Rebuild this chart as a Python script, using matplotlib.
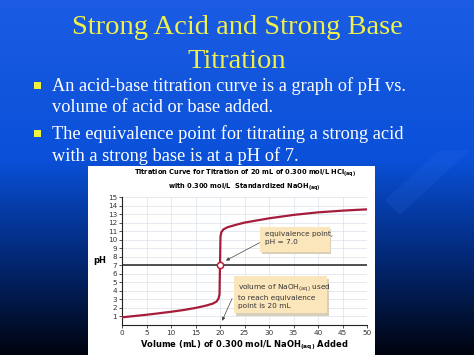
import numpy as np
import matplotlib.pyplot as plt
from matplotlib.patches import Rectangle, Polygon
from matplotlib.colors import LinearSegmentedColormap

plt.rcParams['mathtext.default'] = 'regular'

# titration curve
volume = [0, 2.5, 5, 7.5, 10, 12.5, 15, 17, 18.5, 19.3, 19.7, 19.9, 20, 20.1,
          20.3, 20.7, 21.5, 23, 25, 27.5, 30, 32.5, 35, 37.5, 40, 42.5, 45, 47.5, 50]
ph = [0.9, 1.05, 1.2, 1.37, 1.55, 1.75, 2.0, 2.25, 2.5, 2.75, 3.1, 3.6, 7.0, 10.4,
      10.9, 11.2, 11.45, 11.7, 12.0, 12.25, 12.5, 12.7, 12.9, 13.05, 13.2, 13.3, 13.4, 13.48, 13.55]
equiv_v, equiv_ph = 20, 7.0
xticks = list(range(0, 51, 5))
yticks = list(range(1, 16))

slide_title = ['Strong Acid and Strong Base', 'Titration']
bullets = [['An acid-base titration curve is a graph of pH vs.',
            'volume of acid or base added.'],
           ['The equivalence point for titrating a strong acid',
            'with a strong base is at a pH of 7.']]

W, H = 474, 355
fig = plt.figure(figsize=(W / 100, H / 100), dpi=100)

# slide background
bg = fig.add_axes([0, 0, 1, 1], zorder=-1)
bg.set_axis_off()
cmap = LinearSegmentedColormap.from_list('slide', [
    (0.0, '#1c5ce4'), (0.45, '#0a50d8'), (0.7, '#032c80'), (1.0, '#00040f')])
grad = np.linspace(0, 1, 256).reshape(-1, 1)
bg.imshow(grad, cmap=cmap, aspect='auto', extent=[0, 1, 0, 1], origin='upper')
bg.set_xlim(0, 1)
bg.set_ylim(0, 1)

def px(x, y):
    return x / W, 1 - y / H

bg.add_patch(Polygon([px(440, 150), px(470, 150), px(400, 215), px(385, 200)],
                     closed=True, color='#3f80ff', alpha=0.12, lw=0))

bg.text(*px(237, 27), slide_title[0], ha='center', va='center', fontsize=20.5,
        family='Liberation Serif', color='#f0f04a')
bg.text(*px(237, 62), slide_title[1], ha='center', va='center', fontsize=20.5,
        family='Liberation Serif', color='#f0f04a')

baselines = [[91, 112.5], [139, 161]]
for lines, ys in zip(bullets, baselines):
    bg.add_patch(Rectangle(px(34, ys[0] - 2), 7 / W, 7 / H, color='#f2f23c', lw=0))
    for line, y in zip(lines, ys):
        bg.text(*px(52, y), line, ha='left', va='baseline', fontsize=13.2,
                family='Liberation Serif', color='white')

# white panel holding the chart
bg.add_patch(Rectangle(px(88, 355), (375 - 88) / W, (355 - 166) / H,
                       color='white', lw=0))

ax = fig.add_axes([122 / W, 30 / H, 245 / W, 128 / H])
ax.set_facecolor('white')
ax.set_xlim(0, 50)
ax.set_ylim(0, 15)
ax.set_xticks(xticks)
ax.set_yticks(yticks)
ax.tick_params(labelsize=5.2, length=2, width=0.6, pad=1.5, colors='#333333')
ax.grid(True, color='#dbe2ec', lw=0.5)
ax.set_axisbelow(True)
for s in ['top', 'right']:
    ax.spines[s].set_visible(False)
for s in ['left', 'bottom']:
    ax.spines[s].set_color('#222222')
    ax.spines[s].set_linewidth(0.8)

ax.axhline(equiv_ph, color='#222222', lw=1.1, zorder=2)
ax.plot(volume, ph, color='#a51d3a', lw=1.6, zorder=3)
ax.plot([equiv_v], [equiv_ph], 'o', ms=4.5, mfc='white', mec='#b81e3a', mew=1.1, zorder=4)

ax.set_xlabel('Volume (mL) of 0.300 mol/L NaOH$_{(aq)}$ Added', fontsize=6,
              fontweight='bold', labelpad=2)
ax.set_ylabel('pH', fontsize=6, fontweight='bold', rotation=0, labelpad=10)
ax.yaxis.set_label_coords(-0.09, 7 / 15)
ax.set_title('Titration Curve for Titration of 20 mL of 0.300 mol/L HCl$_{(aq)}$\n'
             'with 0.300 mol/L  Standardized NaOH$_{(aq)}$', fontsize=4.8,
             fontweight='bold', pad=6, linespacing=1.35)

# callout boxes
box_kw = dict(fontsize=5.3, color='#333333', va='top', ha='left', linespacing=1.45,
              zorder=7)
for (x0, y0, w, h) in [(28.2, 8.6, 14.2, 2.9), (22.9, 1.4, 18.9, 4.3)]:
    ax.add_patch(Rectangle((x0 + 0.35, y0 - 0.3), w, h, color='#d8cfb8', lw=0, zorder=5))
    ax.add_patch(Rectangle((x0, y0), w, h, color='#fbe6bc', lw=0, zorder=6))
ax.text(29.2, 11.0, 'equivalence point,\npH = 7.0', **box_kw)
ax.text(23.7, 5.05, 'volume of NaOH$_{(aq)}$ used\nto reach equivalence\npoint is 20 mL', **box_kw)
arrow = dict(arrowstyle='-|>', color='#444444', lw=0.5, mutation_scale=5)
ax.annotate('', xy=(20.7, 7.4), xytext=(28.6, 9.8), arrowprops=arrow, zorder=8)
ax.annotate('', xy=(20.2, 0.2), xytext=(22.7, 3.4), arrowprops=arrow, zorder=8)

fig.savefig('out.png', dpi=100)
